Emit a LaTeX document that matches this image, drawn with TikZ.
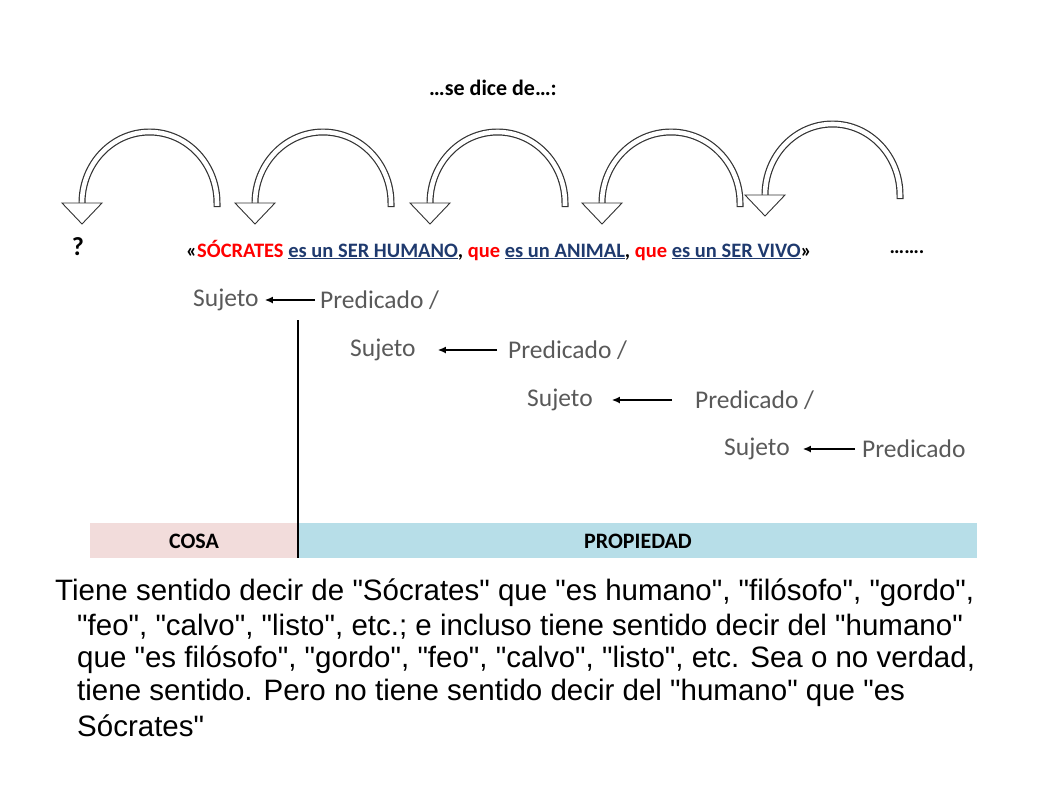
\documentclass[tikz,border=0pt]{standalone}
\usepackage{fontspec}
\usetikzlibrary{arrows.meta}
\setmainfont{Carlito}
\newfontfamily\arialf{Liberation Sans}
\definecolor{navy}{HTML}{1F3A6E}
\definecolor{cosa}{HTML}{F2DCDB}
\definecolor{prop}{HTML}{B7DEE8}
\definecolor{gtxt}{HTML}{595959}
\newcommand{\ul}[1]{\underline{#1}}
\tikzset{
  shaft/.style={line width=7pt, draw=black!80},
  shaftin/.style={line width=4.6pt, draw=white},
  head/.style={draw=black!80, fill=white, line width=0.9pt, line join=miter},
  lbl/.style={font=\fontsize{25.5}{28}\selectfont, text=gtxt, inner sep=0pt},
  para/.style={font=\arialf\fontsize{29.5}{32}\selectfont, anchor=west, inner sep=0pt},
  sarrow/.style={-{Latex[length=8pt,width=7pt]}, line width=1.3pt}
}
\newcommand{\arcarrow}[6]{% leftx, rightx, basey, topy, tipy, rightbottom
  \draw[shaft] (#2,#6) -- (#2,#3) arc[start angle=0,end angle=-180,x radius={(#2-#1)/2},y radius={#3-#4}] -- (#1,#5-19);
  \draw[shaftin] (#2,#6-1.2) -- (#2,#3) arc[start angle=0,end angle=-180,x radius={(#2-#1)/2},y radius={#3-#4}] -- (#1,#5-19.5);
  \draw[head] (#1-20,#5-21) -- (#1+20,#5-21) -- (#1,#5) -- cycle;
}
\begin{document}
\begin{tikzpicture}[x=1pt,y=-1pt]
\useasboundingbox (0,0) rectangle (1058,793);
\node[font=\bfseries\fontsize{22}{26}\selectfont, inner sep=0pt] (title) at (493,88) {…se dice de…:};
\arcarrow{82}{217}{203}{132}{224}{207}
\arcarrow{255}{391}{203}{132}{224}{207}
\arcarrow{430}{565}{203}{132}{224}{207}
\arcarrow{602}{740}{203}{132}{224}{207}
\arcarrow{765}{900}{195}{124}{216}{199}
\node[font=\bfseries\fontsize{26}{30}\selectfont, inner sep=0pt] (q) at (78,247) {?};
\node[font=\bfseries\fontsize{20.5}{24}\selectfont, anchor=west, inner sep=0pt] (sent) at (186,250)
 {«\textcolor{red}{SÓCRATES} \textcolor{navy}{\ul{es un SER HUMANO}}, \textcolor{red}{que} \textcolor{navy}{\ul{es un ANIMAL}}, \textcolor{red}{que} \textcolor{navy}{\ul{es un SER VIVO}}»};
\node[font=\bfseries\fontsize{20.5}{24}\selectfont, inner sep=0pt] (dots) at (907,252) {…….};
% rows
\node[lbl, anchor=west] (s1) at (193,300) {Sujeto};
\node[lbl, anchor=west] (p1) at (320,300) {Predicado /};
\draw[sarrow] ([xshift=-5pt]p1.west) -- ([xshift=6pt]s1.east);
\node[lbl, anchor=west] (s2) at (350,350) {Sujeto};
\node[lbl, anchor=west] (p2) at (508,350) {Predicado /};
\draw[sarrow] ([xshift=-11pt]p2.west) -- ([xshift=22pt]s2.east);
\node[lbl, anchor=west] (s3) at (527,400) {Sujeto};
\node[lbl, anchor=west] (p3) at (695,400) {Predicado /};
\draw[sarrow] ([xshift=-23pt]p3.west) -- ([xshift=19pt]s3.east);
\node[lbl, anchor=west] (s4) at (724,449) {Sujeto};
\node[lbl, anchor=west] (p4) at (862,449) {Predicado};
\draw[sarrow] ([xshift=-7pt]p4.west) -- ([xshift=13pt]s4.east);
% bars
\fill[cosa] (90,523) rectangle (298,558);
\fill[prop] (298,523) rectangle (977,558);
\node[font=\bfseries\fontsize{22}{26}\selectfont, inner sep=0pt] (cosa) at (194,541) {COSA};
\node[font=\bfseries\fontsize{22}{26}\selectfont, inner sep=0pt] (propiedad) at (638,541) {PROPIEDAD};
\coordinate (vtop) at (298,320);
\coordinate (vbot) at (298,558);
\draw[line width=1.2pt] (vtop) -- (vbot);
% paragraph
\node[para] (l1) at (55,593) {Tiene sentido decir de "Sócrates" que "es humano", "filósofo", "gordo",};
\node[para] (l2) at (77,627) {"feo", "calvo", "listo", etc.; e incluso tiene sentido decir del "humano"};
\node[para] (l3) at (77,660) {que "es filósofo", "gordo", "feo", "calvo", "listo", etc. Sea o no verdad,};
\node[para] (l4) at (77,693) {tiene sentido. Pero no tiene sentido decir del "humano" que "es};
\node[para] (l5) at (77,726) {Sócrates"};
\end{tikzpicture}
\end{document}
